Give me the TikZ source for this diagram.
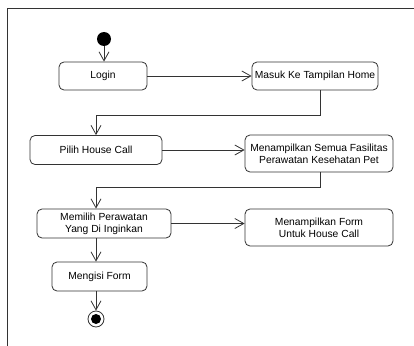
\documentclass[tikz,border=0pt]{standalone}
\usepackage{fontspec}
\setmainfont{Liberation Sans}
\usetikzlibrary{arrows.meta}
\definecolor{ink}{HTML}{333333}
\begin{document}
\begin{tikzpicture}[x=1pt,y=-1pt,
  act/.style={draw=ink, line width=0.8pt, rounded corners=5pt, align=center,
              font=\fontsize{10.3}{12}\selectfont, inner sep=1pt, fill=white},
  flow/.style={draw=ink, line width=0.8pt, -{Straight Barb[length=9pt,width=10pt]}}]
  \useasboundingbox (0,0) rectangle (414,345);
  \fill[white] (0,0) rectangle (414,345);
  % diagram frame
  \draw[ink, line width=0.8pt] (7,360) -- (7,8) -- (430,8);

  % start and end points
  \node[circle, fill=black, minimum size=14pt, inner sep=0pt] (init) at (104,39) {};
  \node[circle, draw=ink, line width=0.8pt, minimum size=16pt, inner sep=0pt] (final) at (96,319) {};
  \fill[black] (final) circle (5pt);

  % activities
  \node[act, minimum width=88pt, minimum height=28pt] (login) at (103,76) {Login};
  \node[act, minimum width=126pt, minimum height=28pt] (home) at (315,76) {Masuk Ke Tampilan Home};
  \node[act, minimum width=132pt, minimum height=29pt] (pilih) at (96,150) {Pilih House Call};
  \node[act, minimum width=148pt, minimum height=37pt] (fasilitas) at (319,153.5) {Menampilkan Semua Fasilitas\\Perawatan Kesehatan Pet};
  \node[act, minimum width=134pt, minimum height=29pt] (memilih) at (104,223.5) {Memilih Perawatan\\Yang Di Inginkan};
  \node[act, minimum width=148pt, minimum height=37pt] (form) at (319,227.5) {Menampilkan Form\\Untuk House Call};
  \node[act, minimum width=95pt, minimum height=29pt] (isi) at (99.5,276.5) {Mengisi Form};

  % control flows
  \draw[flow] (init) -- (init |- login.north);
  \draw[flow] (login.east) -- (home.west);
  \draw[flow] ([xshift=5pt]home.south) -- ++(0,25) -| (pilih.north);
  \draw[flow] (pilih.east) -- (pilih.east -| fasilitas.west);
  \draw[flow] ([xshift=1pt]fasilitas.south) -- ++(0,15) -| ([xshift=-8pt]memilih.north);
  \draw[flow] (memilih.east) -- (memilih.east -| form.west);
  \draw[flow] (memilih.south -| final) -- (isi.north -| final);
  \draw[flow] (isi.south -| final) -- (final.north);
\end{tikzpicture}
\end{document}
